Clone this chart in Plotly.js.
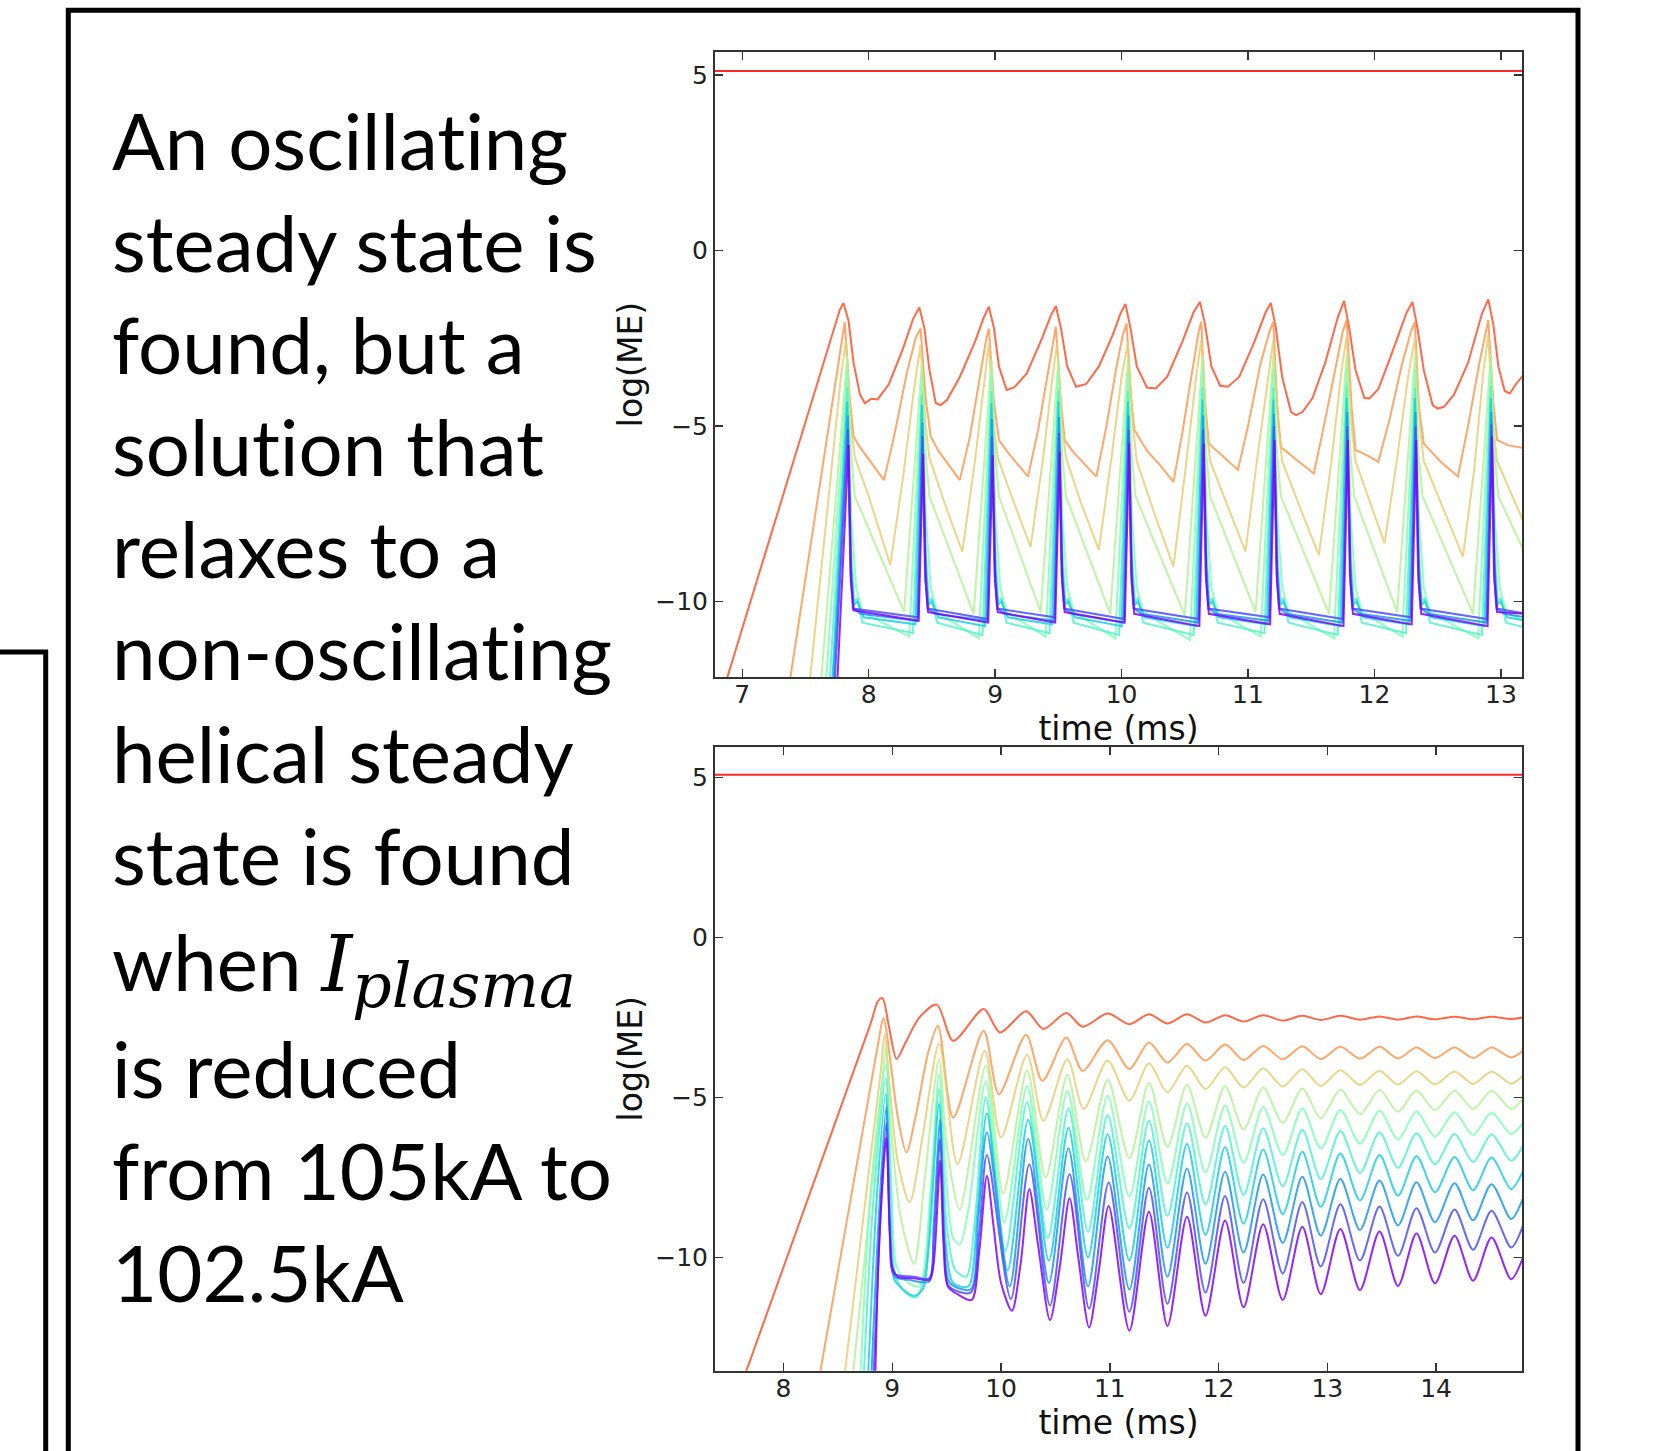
<!DOCTYPE html>
<html><head><meta charset="utf-8">
<script src="https://cdn.plot.ly/plotly-3.0.1.min.js"></script>
<style>html,body{margin:0;padding:0;background:#fff}#chart{width:1654px;height:1451px}
svg text{font-variant-ligatures:none !important;font-feature-settings:"liga" 0,"clig" 0 !important;}</style>
</head><body><div id="chart"></div>
<script>
// ---------- text ----------
const TEXT_LINES = ["An oscillating","steady state is","found, but a","solution that","relaxes to a","non-oscillating","helical steady","state is found",
 'when <i style="font-family:DejaVu Serif">I</i>',
 "is reduced","from 105kA to","102.5kA"];
const SUB_TEXT = '<i>plasma</i>';
const X_TITLE = "time (ms)";
const Y_TITLE = "log(ME)";
const TOP_XTICKS = [7,8,9,10,11,12,13];
const BOT_XTICKS = [8,9,10,11,12,13,14];
const YTICKS = [-10,-5,0,5];

// ---------- top panel data ([time, logME]) ----------
const TOP_FLAT = [[6.70,5.12],[13.30,5.12]];
const TOP_09 = [[6.86,-12.41],[7.72,-2.3],[7.77,-1.7],[7.80,-1.49],[7.84,-2.0],[7.88,-3.2],[7.93,-4.1],[7.97,-4.35],[8.02,-4.22],[8.07,-4.24],[8.16,-3.8],[8.27,-2.8],[8.35,-1.95],[8.40,-1.62],
 [8.44,-2.2],[8.48,-3.4],[8.53,-4.35],[8.57,-4.4],[8.62,-4.25],[8.72,-3.6],[8.84,-2.6],[8.91,-1.9],[8.95,-1.6],
 [8.99,-2.2],[9.03,-3.3],[9.09,-3.97],[9.15,-3.9],[9.25,-3.5],[9.37,-2.5],[9.44,-1.85],[9.48,-1.58],
 [9.52,-2.2],[9.57,-3.3],[9.64,-3.88],[9.72,-3.8],[9.82,-3.3],[9.93,-2.4],[9.99,-1.8],[10.03,-1.52],
 [10.07,-2.2],[10.12,-3.3],[10.20,-3.9],[10.27,-3.93],[10.36,-3.6],[10.48,-2.6],[10.57,-1.75],[10.62,-1.46],
 [10.66,-2.1],[10.71,-3.3],[10.78,-3.85],[10.84,-3.88],[10.93,-3.6],[11.05,-2.6],[11.14,-1.75],[11.18,-1.49],
 [11.22,-2.2],[11.27,-3.6],[11.34,-4.6],[11.38,-4.69],[11.43,-4.6],[11.51,-4.2],[11.61,-3.2],[11.71,-1.9],[11.76,-1.43],
 [11.80,-2.2],[11.85,-3.4],[11.92,-4.2],[11.96,-4.21],[12.03,-3.95],[12.13,-3.0],[12.25,-1.8],[12.30,-1.46],
 [12.34,-2.2],[12.39,-3.4],[12.46,-4.4],[12.50,-4.50],[12.55,-4.45],[12.63,-4.1],[12.74,-3.2],[12.85,-1.8],[12.90,-1.39],
 [12.94,-2.1],[12.98,-3.3],[13.03,-4.0],[13.07,-4.07],[13.12,-3.8],[13.20,-3.45]];
const TOP_08 = [[7.37,-12.4],[7.76,-3.2],[7.81,-2.03],[7.85,-4.2],[7.88,-5.3],[7.93,-5.6],[8.00,-5.95],[8.12,-6.54],[8.20,-5.3],[8.30,-3.5],[8.37,-2.5],[8.41,-2.22],
 [8.45,-4.2],[8.49,-5.3],[8.55,-5.7],[8.63,-6.1],[8.72,-6.54],[8.80,-5.3],[8.88,-3.6],[8.93,-2.5],[8.95,-2.22],
 [8.99,-4.3],[9.03,-5.4],[9.10,-5.75],[9.18,-6.1],[9.26,-6.44],[9.34,-5.1],[9.42,-3.4],[9.46,-2.5],[9.48,-2.17],
 [9.52,-4.3],[9.55,-5.4],[9.62,-5.75],[9.71,-6.1],[9.80,-6.44],[9.88,-5.0],[9.96,-3.3],[10.01,-2.4],[10.04,-2.08],
 [10.07,-4.0],[10.10,-5.1],[10.20,-5.7],[10.30,-6.1],[10.41,-6.59],[10.48,-5.2],[10.56,-3.4],[10.61,-2.3],[10.63,-2.03],
 [10.66,-4.3],[10.69,-5.5],[10.78,-5.8],[10.92,-6.25],[11.00,-5.0],[11.10,-3.2],[11.17,-2.3],[11.20,-2.03],
 [11.23,-4.4],[11.26,-5.6],[11.38,-5.95],[11.52,-6.35],[11.60,-5.0],[11.70,-3.2],[11.75,-2.3],[11.78,-1.98],
 [11.82,-4.5],[11.85,-5.68],[11.95,-5.85],[12.03,-6.02],[12.12,-4.8],[12.22,-3.2],[12.29,-2.3],[12.32,-2.03],
 [12.35,-4.4],[12.39,-5.5],[12.52,-6.0],[12.66,-6.44],[12.74,-5.0],[12.83,-3.2],[12.88,-2.3],[12.90,-1.98],
 [12.94,-4.3],[12.97,-5.4],[13.06,-5.55],[13.20,-5.64]];
const TOP_07 = [[7.53,-12.4],[7.78,-3.6],[7.82,-2.55],[7.86,-5.0],[7.89,-5.9],[8.00,-7.0],[8.17,-8.96],[8.27,-6.5],[8.36,-3.9],[8.41,-2.69],
 [8.45,-5.0],[8.48,-5.9],[8.60,-7.2],[8.74,-8.58],[8.84,-6.0],[8.92,-3.6],[8.95,-2.64],
 [8.99,-5.0],[9.02,-5.9],[9.14,-7.1],[9.28,-8.44],[9.38,-5.9],[9.45,-3.7],[9.49,-2.64],
 [9.53,-5.0],[9.56,-5.9],[9.68,-7.2],[9.82,-8.53],[9.92,-5.9],[10.00,-3.6],[10.05,-2.6],
 [10.09,-5.0],[10.12,-6.0],[10.26,-7.5],[10.41,-9.0],[10.50,-6.4],[10.59,-3.6],[10.63,-2.55],
 [10.67,-5.0],[10.70,-6.0],[10.84,-7.3],[10.98,-8.58],[11.07,-6.0],[11.16,-3.5],[11.20,-2.55],
 [11.24,-5.0],[11.27,-6.0],[11.42,-7.4],[11.56,-8.68],[11.66,-6.0],[11.74,-3.4],[11.78,-2.45],
 [11.82,-5.0],[11.85,-6.0],[11.97,-7.2],[12.08,-8.34],[12.18,-5.9],[12.27,-3.5],[12.32,-2.5],
 [12.36,-5.0],[12.39,-6.0],[12.55,-7.4],[12.70,-8.72],[12.79,-6.2],[12.86,-3.5],[12.90,-2.4],
 [12.94,-5.0],[12.97,-6.0],[13.20,-7.9]];
const TOP_06 = [[7.62,-12.4],[7.83,-3.0],[7.86,-5.8],[7.89,-7.0],[8.28,-10.3],[8.42,-3.2],[8.45,-5.8],[8.48,-7.0],[8.83,-10.35],
 [8.97,-3.1],[9.00,-5.8],[9.03,-7.0],[9.36,-10.3],[9.50,-3.1],[9.53,-5.8],[9.56,-7.0],[9.91,-10.35],
 [10.05,-3.1],[10.08,-5.8],[10.11,-7.0],[10.50,-10.4],[10.64,-3.0],[10.67,-5.8],[10.70,-7.0],[11.06,-10.3],
 [11.20,-3.0],[11.23,-5.8],[11.26,-7.0],[11.64,-10.35],[11.78,-2.95],[11.81,-5.8],[11.84,-7.0],[12.18,-10.3],
 [12.32,-3.0],[12.35,-5.8],[12.38,-7.0],[12.78,-10.35],[12.92,-2.95],[12.95,-5.8],[12.98,-7.0],[13.20,-8.7]];
const TOP_05 = [[7.66,-12.4],[7.83,-3.4],[7.86,-7.5],[7.90,-9.6],[7.95,-10.3],[8.32,-11.0],[8.42,-3.6],[8.45,-7.5],[8.49,-9.6],[8.54,-10.3],[8.87,-11.05],
 [8.97,-3.5],[9.00,-7.5],[9.04,-9.6],[9.09,-10.3],[9.40,-11.0],[9.50,-3.5],[9.53,-7.5],[9.57,-9.6],[9.62,-10.3],[9.95,-11.05],
 [10.05,-3.5],[10.08,-7.5],[10.12,-9.6],[10.17,-10.3],[10.54,-11.1],[10.64,-3.4],[10.67,-7.5],[10.71,-9.6],[10.76,-10.3],[11.10,-11.0],
 [11.20,-3.4],[11.23,-7.5],[11.27,-9.6],[11.32,-10.3],[11.68,-11.05],[11.78,-3.35],[11.81,-7.5],[11.85,-9.6],[11.90,-10.3],[12.22,-11.0],
 [12.32,-3.4],[12.35,-7.5],[12.39,-9.6],[12.44,-10.3],[12.82,-11.05],[12.92,-3.35],[12.95,-7.5],[12.99,-9.6],[13.04,-10.3],[13.20,-10.6]];
const TOP_04 = [[7.69,-12.4],[7.83,-3.9],[7.86,-8.5],[7.885,-10.0],[7.91,-9.9],[7.95,-10.6],[8.35,-10.9],
 [8.42,-4.1],[8.45,-8.5],[8.475,-10.0],[8.50,-9.9],[8.54,-10.6],[8.90,-10.95],
 [8.97,-4.0],[9.00,-8.5],[9.025,-10.0],[9.05,-9.9],[9.09,-10.6],[9.43,-10.9],
 [9.50,-4.0],[9.53,-8.5],[9.555,-10.0],[9.58,-9.9],[9.62,-10.6],[9.98,-10.95],
 [10.05,-4.0],[10.08,-8.5],[10.105,-10.0],[10.13,-9.9],[10.17,-10.6],[10.57,-10.95],
 [10.64,-3.9],[10.67,-8.5],[10.695,-10.0],[10.72,-9.9],[10.76,-10.6],[11.13,-10.9],
 [11.20,-3.9],[11.23,-8.5],[11.255,-10.0],[11.28,-9.9],[11.32,-10.6],[11.71,-10.95],
 [11.78,-3.85],[11.81,-8.5],[11.835,-10.0],[11.86,-9.9],[11.90,-10.6],[12.25,-10.9],
 [12.32,-3.9],[12.35,-8.5],[12.375,-10.0],[12.40,-9.9],[12.44,-10.6],[12.85,-10.95],
 [12.92,-3.85],[12.95,-8.5],[12.975,-10.0],[13.00,-9.9],[13.04,-10.6],[13.20,-10.75]];
const TOP_03 = [[7.71,-12.4],[7.83,-4.3],[7.855,-8.8],[7.88,-10.1],[7.91,-10.0],[7.96,-10.45],[8.37,-10.65],
 [8.42,-4.4],[8.445,-8.8],[8.47,-10.1],[8.50,-10.0],[8.55,-10.45],[8.92,-10.7],
 [8.97,-4.35],[8.995,-8.8],[9.02,-10.1],[9.05,-10.0],[9.10,-10.45],[9.45,-10.65],
 [9.50,-4.3],[9.525,-8.8],[9.55,-10.1],[9.58,-10.0],[9.63,-10.45],[10.00,-10.7],
 [10.05,-4.3],[10.075,-8.8],[10.10,-10.1],[10.13,-10.0],[10.18,-10.45],[10.59,-10.7],
 [10.64,-4.25],[10.665,-8.8],[10.69,-10.1],[10.72,-10.0],[10.77,-10.45],[11.15,-10.65],
 [11.20,-4.25],[11.225,-8.8],[11.25,-10.1],[11.28,-10.0],[11.33,-10.45],[11.73,-10.7],
 [11.78,-4.2],[11.805,-8.8],[11.83,-10.1],[11.86,-10.0],[11.91,-10.45],[12.27,-10.65],
 [12.32,-4.2],[12.345,-8.8],[12.37,-10.1],[12.40,-10.0],[12.45,-10.45],[12.87,-10.7],
 [12.92,-4.2],[12.945,-8.8],[12.97,-10.1],[13.00,-10.0],[13.05,-10.45],[13.20,-10.55]];
const TOP_02 = [[7.72,-12.4],[7.835,-4.7],[7.86,-9.0],[7.88,-10.2],[7.935,-10.35],[8.385,-10.55],
 [8.425,-4.9],[8.45,-9.0],[8.47,-10.2],[8.525,-10.35],[8.935,-10.55],
 [8.975,-4.8],[9.00,-9.0],[9.02,-10.2],[9.075,-10.35],[9.465,-10.55],
 [9.505,-4.75],[9.53,-9.0],[9.55,-10.2],[9.605,-10.35],[10.015,-10.6],
 [10.055,-4.7],[10.08,-9.0],[10.10,-10.2],[10.155,-10.35],[10.605,-10.6],
 [10.645,-4.7],[10.67,-9.0],[10.69,-10.2],[10.745,-10.35],[11.165,-10.55],
 [11.205,-4.65],[11.23,-9.0],[11.25,-10.2],[11.305,-10.35],[11.745,-10.6],
 [11.785,-4.6],[11.81,-9.0],[11.83,-10.2],[11.885,-10.35],[12.285,-10.55],
 [12.325,-4.6],[12.35,-9.0],[12.37,-10.2],[12.425,-10.35],[12.885,-10.6],
 [12.925,-4.6],[12.95,-9.0],[12.97,-10.2],[13.025,-10.35],[13.20,-10.45]];
const TOP_01 = [[7.73,-12.4],[7.835,-5.1],[7.855,-9.2],[7.875,-10.2],[8.39,-10.45],
 [8.425,-5.3],[8.445,-9.2],[8.465,-10.2],[8.94,-10.5],
 [8.975,-5.3],[8.995,-9.2],[9.015,-10.2],[9.47,-10.45],
 [9.505,-5.2],[9.525,-9.2],[9.545,-10.2],[10.02,-10.5],
 [10.055,-5.1],[10.075,-9.2],[10.095,-10.2],[10.61,-10.5],
 [10.645,-5.1],[10.665,-9.2],[10.685,-10.2],[11.17,-10.45],
 [11.205,-5.0],[11.225,-9.2],[11.245,-10.2],[11.75,-10.5],
 [11.785,-5.0],[11.805,-9.2],[11.825,-10.2],[12.29,-10.45],
 [12.325,-5.0],[12.345,-9.2],[12.365,-10.2],[12.89,-10.5],
 [12.925,-4.95],[12.945,-9.2],[12.965,-10.2],[13.20,-10.35]];
const TOP_00 = [[7.75,-12.4],[7.84,-5.54],[7.86,-9.4],[7.88,-10.25],[8.395,-10.55],
 [8.43,-5.78],[8.45,-9.4],[8.47,-10.3],[8.945,-10.6],
 [8.98,-5.83],[9.00,-9.4],[9.02,-10.3],[9.475,-10.6],
 [9.51,-5.73],[9.53,-9.4],[9.55,-10.3],[10.025,-10.6],
 [10.06,-5.49],[10.08,-9.4],[10.10,-10.35],[10.615,-10.7],
 [10.65,-5.5],[10.67,-9.4],[10.69,-10.35],[11.175,-10.65],
 [11.21,-5.4],[11.23,-9.4],[11.25,-10.35],[11.755,-10.7],
 [11.79,-5.4],[11.81,-9.4],[11.83,-10.35],[12.295,-10.65],
 [12.33,-5.4],[12.35,-9.4],[12.37,-10.35],[12.895,-10.7],
 [12.93,-5.3],[12.95,-9.4],[12.97,-10.3],[13.20,-10.35]];

// ---------- bottom panel data ----------
const BOT_FLAT = [[7.30,5.08],[14.90,5.08]];
// shared times of late oscillation extrema (trough, peak, ... , end)
const BOT_T_LATE = [11.18,11.36,11.53,11.71,11.88,12.06,12.23,12.41,12.59,12.77,12.94,13.12,13.30,13.48,13.65,13.82,13.99,14.17,14.34,14.51,14.69,14.80];
const BOT_09_EARLY = [[7.60,-14.1],[8.80,-2.7],[8.87,-1.98],[8.91,-1.9],[8.97,-2.8],[9.04,-3.8],[9.12,-3.3],[9.25,-2.5],[9.41,-2.1],[9.56,-3.23],[9.84,-2.24],[9.99,-2.97],[10.23,-2.31],[10.39,-2.86],[10.60,-2.36],[10.75,-2.79],[10.98,-2.38]];
const BOT_09_LATE = [-2.71,-2.40,-2.69,-2.40,-2.66,-2.43,-2.63,-2.43,-2.60,-2.45,-2.58,-2.45,-2.57,-2.47,-2.57,-2.47,-2.56,-2.48,-2.56,-2.48,-2.55,-2.50];
const BOT_08_EARLY = [[8.30,-14.3],[8.86,-3.5],[8.92,-2.52],[8.98,-3.8],[9.05,-5.6],[9.13,-6.72],[9.22,-5.5],[9.33,-3.6],[9.42,-2.76],[9.56,-5.63],[9.84,-2.92],[9.98,-4.9],[10.23,-3.04],[10.38,-4.48],[10.60,-3.13],[10.75,-4.17],[10.98,-3.21]];
const BOT_08_LATE = [-4.11,-3.28,-3.91,-3.33,-3.85,-3.35,-3.83,-3.39,-3.81,-3.40,-3.80,-3.42,-3.79,-3.42,-3.78,-3.44,-3.77,-3.44,-3.77,-3.44,-3.75,-3.54];
const BOT_07_EARLY = [[8.54,-14.3],[8.89,-4.3],[8.93,-3.02],[8.98,-4.8],[9.05,-7.0],[9.16,-8.28],[9.28,-6.2],[9.43,-3.33],[9.60,-7.08],[9.85,-3.54],[10.00,-6.25],[10.24,-3.67],[10.39,-5.73],[10.61,-3.80],[10.76,-5.36],[10.98,-3.85]];
const BOT_07_LATE = [-5.10,-3.94,-4.84,-4.01,-4.74,-4.06,-4.69,-4.09,-4.66,-4.12,-4.64,-4.15,-4.61,-4.17,-4.60,-4.18,-4.59,-4.19,-4.58,-4.19,-4.57,-4.32];
const BOT_06_EARLY = [[8.62,-14.3],[8.90,-4.8],[8.94,-3.44],[8.99,-6.0],[9.08,-8.8],[9.20,-10.2],[9.30,-7.5],[9.43,-3.8],[9.50,-6.5],[9.62,-8.5],[9.86,-4.0],[10.02,-8.0],[10.24,-4.15],[10.41,-7.5],[10.61,-4.3],[10.78,-7.0],[10.98,-4.45]];
const BOT_06_LATE = [-6.90,-4.54,-6.55,-4.60,-6.25,-4.65,-6.00,-4.69,-5.80,-4.72,-5.65,-4.75,-5.53,-4.77,-5.45,-4.78,-5.40,-4.79,-5.37,-4.79,-5.36,-5.05];
const BOT_05_EARLY = [[8.70,-14.3],[8.80,-8.0],[8.94,-3.96],[8.99,-7.5],[9.04,-10.3],[9.15,-10.8],[9.25,-10.9],[9.35,-8.0],[9.43,-4.3],[9.50,-7.8],[9.56,-9.4],[9.62,-9.6],[9.70,-8.5],[9.86,-4.5],[10.03,-8.9],[10.24,-4.65],[10.42,-8.5],[10.61,-4.8],[10.79,-8.2],[10.98,-4.95]];
const BOT_05_LATE = [-8.10,-5.12,-7.70,-5.19,-7.35,-5.25,-7.05,-5.30,-6.80,-5.35,-6.60,-5.39,-6.44,-5.42,-6.32,-5.44,-6.23,-5.46,-6.18,-5.47,-6.15,-5.78];
const BOT_04_EARLY = [[8.73,-14.3],[8.82,-8.5],[8.94,-4.4],[8.99,-8.5],[9.03,-10.6],[9.12,-11.1],[9.22,-11.25],[9.30,-10.5],[9.36,-8.0],[9.43,-4.75],[9.50,-9.0],[9.58,-10.4],[9.68,-10.6],[9.76,-8.8],[9.86,-5.0],[10.04,-9.8],[10.24,-5.15],[10.43,-9.4],[10.62,-5.35],[10.80,-9.2],[10.98,-5.55]];
const BOT_04_LATE = [-9.10,-5.72,-8.70,-5.81,-8.35,-5.89,-8.05,-5.96,-7.78,-6.01,-7.55,-6.05,-7.36,-6.09,-7.20,-6.12,-7.09,-6.14,-7.02,-6.15,-6.98,-6.50];
const BOT_03_EARLY = [[8.77,-14.3],[8.86,-8.0],[8.94,-4.9],[8.98,-9.0],[9.02,-10.7],[9.10,-11.0],[9.20,-11.2],[9.28,-11.0],[9.34,-9.5],[9.43,-5.2],[9.49,-9.5],[9.56,-10.8],[9.70,-10.9],[9.78,-8.7],[9.87,-5.5],[10.06,-10.4],[10.25,-5.7],[10.44,-10.1],[10.62,-5.95],[10.80,-10.0],[10.98,-6.15]];
const BOT_03_LATE = [-10.10,-6.35,-9.70,-6.45,-9.30,-6.55,-8.95,-6.63,-8.65,-6.70,-8.42,-6.75,-8.22,-6.80,-8.07,-6.83,-7.96,-6.86,-7.90,-6.88,-7.86,-7.30];
const BOT_02_EARLY = [[8.80,-14.3],[8.88,-8.5],[8.945,-5.3],[8.98,-9.3],[9.02,-10.6],[9.15,-10.7],[9.34,-10.75],[9.38,-9.0],[9.44,-5.7],[9.48,-9.6],[9.53,-10.8],[9.72,-11.0],[9.79,-8.8],[9.87,-6.1],[10.08,-10.9],[10.25,-6.3],[10.44,-10.8],[10.62,-6.6],[10.80,-10.9],[10.98,-6.85]];
const BOT_02_LATE = [-11.00,-7.10,-10.60,-7.22,-10.20,-7.32,-9.85,-7.41,-9.55,-7.48,-9.32,-7.55,-9.14,-7.60,-9.00,-7.65,-8.90,-7.68,-8.84,-7.71,-8.80,-8.15];
const BOT_01_EARLY = [[8.82,-14.3],[8.89,-8.8],[8.945,-5.8],[8.98,-9.5],[9.01,-10.5],[9.20,-10.6],[9.34,-10.65],[9.38,-9.5],[9.44,-6.3],[9.48,-9.8],[9.52,-10.9],[9.72,-11.1],[9.80,-9.2],[9.87,-6.8],[10.09,-11.3],[10.26,-7.1],[10.45,-11.5],[10.63,-7.4],[10.81,-11.6],[10.99,-7.66]];
const BOT_01_LATE = [-11.70,-7.82,-11.45,-7.97,-11.10,-8.08,-10.80,-8.18,-10.50,-8.27,-10.28,-8.34,-10.10,-8.41,-9.95,-8.46,-9.85,-8.50,-9.76,-8.54,-9.69,-9.00];
const BOT_00_EARLY = [[8.84,-14.3],[8.88,-9.5],[8.945,-6.25],[8.975,-9.0],[9.00,-10.3],[9.05,-10.6],[9.20,-10.65],[9.34,-10.7],[9.38,-10.2],[9.44,-6.98],[9.47,-9.5],[9.51,-10.9],[9.60,-11.15],[9.73,-11.33],[9.80,-9.8],[9.87,-7.45],[9.93,-9.0],[10.00,-10.8],[10.10,-11.67],[10.18,-10.2],[10.26,-7.86],[10.34,-9.6],[10.45,-11.96],[10.54,-10.3],[10.63,-8.15],[10.71,-10.0],[10.81,-12.19],[10.90,-10.4],[10.99,-8.39]];
const BOT_00_LATE = [-12.29,-8.57,-12.14,-8.73,-11.82,-8.85,-11.56,-8.96,-11.33,-9.04,-11.15,-9.11,-11.02,-9.19,-10.89,-9.25,-10.81,-9.32,-10.73,-9.375,-10.68,-10.00];

// ---------- styling ----------
const W = 1654, H = 1451;
const px = v => v / W, py = v => 1 - v / H;
const COLORS = ['rgb(255,0,0)','rgb(255,79,40)','rgb(255,150,79)','rgb(230,206,116)','rgb(179,242,150)','rgb(128,255,180)',
                'rgb(77,242,206)','rgb(26,206,227)','rgb(26,150,242)','rgb(77,79,252)','rgb(128,0,255)'];

function tr(pairs, color, xa, ya, shape, extraX, extraY) {
  let x = pairs.map(p => p[0]), y = pairs.map(p => p[1]);
  if (extraX) { x = x.concat(extraX); y = y.concat(extraY); }
  return {type:'scatter', mode:'lines', x, y, xaxis:xa, yaxis:ya, hoverinfo:'skip',
          line:{color, width:2, shape, smoothing:0.8}, opacity:0.85};
}

const topSeries = [TOP_FLAT, TOP_09, TOP_08, TOP_07, TOP_06, TOP_05, TOP_04, TOP_03, TOP_02, TOP_01, TOP_00];
const botEarly = [BOT_09_EARLY, BOT_08_EARLY, BOT_07_EARLY, BOT_06_EARLY, BOT_05_EARLY, BOT_04_EARLY, BOT_03_EARLY, BOT_02_EARLY, BOT_01_EARLY, BOT_00_EARLY];
const botLate = [BOT_09_LATE, BOT_08_LATE, BOT_07_LATE, BOT_06_LATE, BOT_05_LATE, BOT_04_LATE, BOT_03_LATE, BOT_02_LATE, BOT_01_LATE, BOT_00_LATE];

const traces = [];
topSeries.forEach((s, i) => traces.push(tr(s, COLORS[i], 'x', 'y', 'linear')));
traces.push(tr(BOT_FLAT, COLORS[0], 'x2', 'y2', 'linear'));
botEarly.forEach((s, i) => traces.push(tr(s, COLORS[i + 1], 'x2', 'y2', 'spline', BOT_T_LATE, botLate[i])));

const tickFont = {family:'DejaVu Sans', size:25, color:'#222'};
const titleFont = {family:'DejaVu Sans', size:33, color:'#111'};
const axBase = {showline:true, mirror:'ticks', linecolor:'#333', linewidth:2, ticks:'inside', ticklen:8, tickwidth:1.5,
                tickcolor:'#333', showgrid:false, zeroline:false, tickfont:tickFont};

const TEXT_BASE = [169.5, 271.7, 374, 476, 578, 680, 782.5, 884.5, 990, 1098, 1200, 1302];
const annotations = TEXT_LINES.map((t, i) => ({
  text: t, xref:'paper', yref:'paper', x: px(110), y: py(TEXT_BASE[i] - (i === 8 ? 29 : 30)),
  xanchor:'left', yanchor:'middle', showarrow:false, font:{family:'Lato', size:78, color:'#000'}
}));
annotations.push({text: SUB_TEXT, xref:'paper', yref:'paper', x: px(350), y: py(1006.7 - 21),
  xanchor:'left', yanchor:'middle', showarrow:false, font:{family:'DejaVu Serif', size:62, color:'#000'}});

const shapes = [
  {type:'rect', xref:'paper', yref:'paper', x0:px(68.3), x1:px(1578), y0:py(10.3), y1:py(1480), line:{color:'#000', width:5}, fillcolor:'rgba(0,0,0,0)'},
  {type:'path', xref:'paper', yref:'paper', path:`M ${px(-5)},${py(652)} L ${px(45.7)},${py(652)} L ${px(45.7)},${py(1480)}`, line:{color:'#000', width:5}}
];

const layout = {
  width:W, height:H, margin:{l:0, r:0, t:0, b:0}, paper_bgcolor:'#fff', plot_bgcolor:'#fff', showlegend:false,
  xaxis: Object.assign({}, axBase, {domain:[px(715), px(1522)], range:[6.784, 13.167], tickvals:TOP_XTICKS, anchor:'y',
         ticklabelstandoff:-6, title:{text:X_TITLE, font:titleFont, standoff:0}}),
  yaxis: Object.assign({}, axBase, {domain:[py(677), py(52)], range:[-12.15, 5.66], tickvals:YTICKS, anchor:'x',
         title:{text:Y_TITLE, font:titleFont, standoff:3}}),
  xaxis2: Object.assign({}, axBase, {domain:[px(715), px(1522)], range:[7.37, 14.79], tickvals:BOT_XTICKS, anchor:'y2',
         ticklabelstandoff:-6, title:{text:X_TITLE, font:titleFont, standoff:0}}),
  yaxis2: Object.assign({}, axBase, {domain:[py(1370.7), py(746.7)], range:[-13.54, 5.96], tickvals:YTICKS, anchor:'x2',
         title:{text:Y_TITLE, font:titleFont, standoff:3}}),
  annotations, shapes
};

Plotly.newPlot('chart', traces, layout, {displayModeBar:false, staticPlot:true});
</script></body></html>
